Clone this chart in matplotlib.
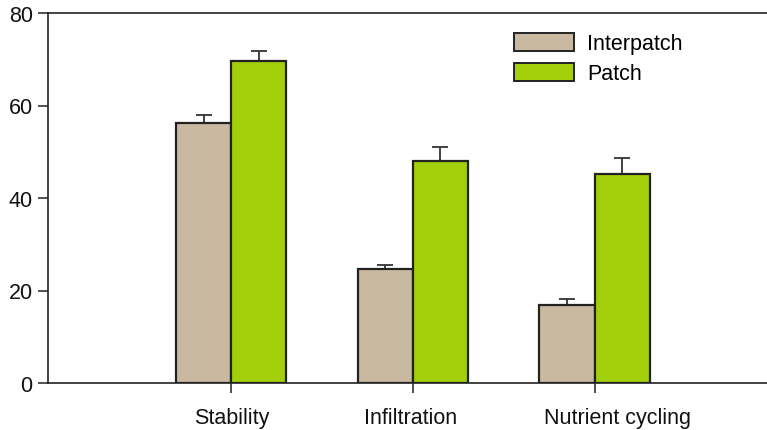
import matplotlib
matplotlib.use("Agg")
import matplotlib.pyplot as plt
import matplotlib.transforms as mtransforms
import numpy as np
from matplotlib.patches import Patch

categories = ["Stability", "Infiltration", "Nutrient cycling"]
interpatch = [56.2, 24.6, 16.9]
interpatch_err = [1.7, 0.9, 1.3]
patch = [69.6, 48.0, 45.2]
patch_err = [2.1, 3.0, 3.4]
yticks = [0, 20, 40, 60, 80]

c_inter = "#C9B9A0"
c_patch = "#A2CF0A"
edge = "#222222"

plt.rcParams['font.family'] = ['Liberation Sans', 'DejaVu Sans']

fig = plt.figure(figsize=(7.67, 4.31), dpi=100)
ax = fig.add_axes([48/767, 1 - 384/431, 1 - 48/767, 370/431])

x = np.arange(1, len(categories) + 1)
w = 0.303
ax.bar(x - w/2, interpatch, w, color=c_inter, edgecolor=edge, linewidth=1.6, zorder=2)
ax.bar(x + w/2, patch, w, color=c_patch, edgecolor=edge, linewidth=1.6, zorder=2)
ax.errorbar(x - w/2, interpatch, yerr=[np.zeros(3), interpatch_err], fmt='none',
            ecolor="#333333", elinewidth=1.3, capsize=5.5, capthick=1.3, zorder=1)
ax.errorbar(x + w/2, patch, yerr=[np.zeros(3), patch_err], fmt='none',
            ecolor="#333333", elinewidth=1.3, capsize=5.5, capthick=1.3, zorder=1)

ax.set_xlim(-0.01, 3.95)
ax.set_ylim(0, 80)
ax.set_yticks(yticks)
ax.set_xticks(x)
ax.set_xticklabels(categories)
ax.spines['right'].set_visible(False)
for s in ['left', 'top', 'bottom']:
    ax.spines[s].set_linewidth(1.2)
    ax.spines[s].set_color("#222222")
ax.tick_params(axis='both', direction='out', length=7, width=1.1, color="#222222",
               labelsize=15.5, labelcolor="#111111")
ax.tick_params(axis='x', pad=10)
ax.tick_params(axis='y', pad=4)

# label offsets (in points) to match the reference placement
offsets = [0, -2, 23]
for lbl, dx in zip(ax.get_xticklabels(), offsets):
    lbl.set_transform(lbl.get_transform() +
                      mtransforms.ScaledTranslation(dx / 100, 0, fig.dpi_scale_trans))

handles = [Patch(facecolor=c_inter, edgecolor=edge, linewidth=1.4, label="Interpatch"),
           Patch(facecolor=c_patch, edgecolor=edge, linewidth=1.4, label="Patch")]
ax.legend(handles=handles, loc='upper left', bbox_to_anchor=(0.648, 0.946), frameon=False,
          fontsize=15.5, handlelength=2.8, handleheight=0.88, handletextpad=0.6,
          labelspacing=0.42, borderaxespad=0, borderpad=0)

fig.savefig("out.png", dpi=100)
